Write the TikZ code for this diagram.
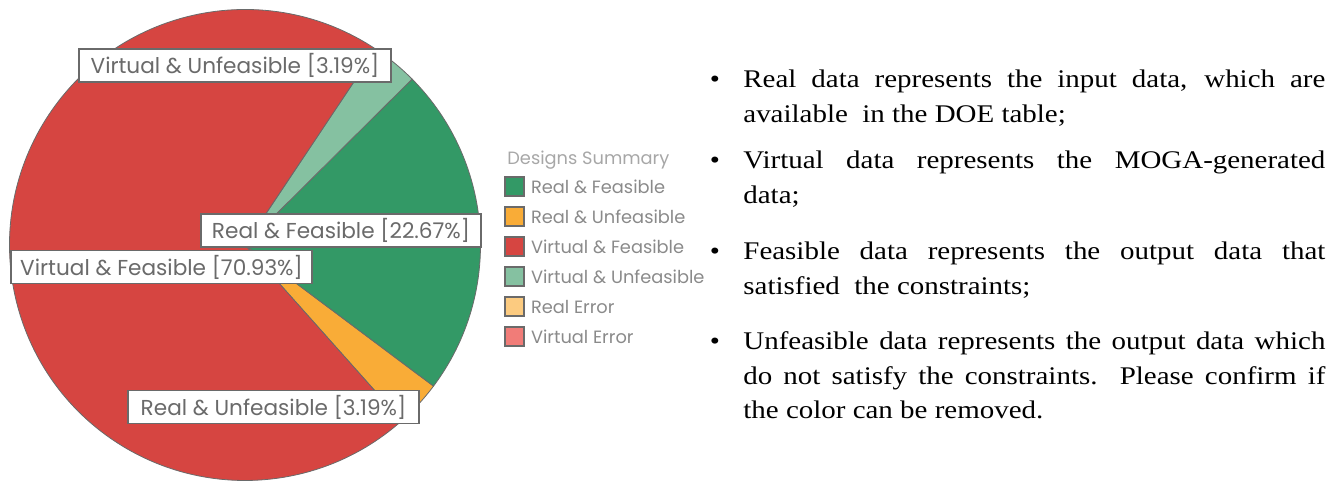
\documentclass[tikz,border=0pt]{standalone}
\usepackage{fontspec}
\setmainfont{Liberation Serif}[FakeStretch=1.14]
\newfontfamily\chartfont{Poppins}
\usepackage{tikz}
\usetikzlibrary{positioning}
\definecolor{rfeas}{HTML}{339966}
\definecolor{runf}{HTML}{F9AC37}
\definecolor{vfeas}{HTML}{D64541}
\definecolor{vunf}{HTML}{85C1A1}
\definecolor{rerr}{HTML}{FCCB80}
\definecolor{verr}{HTML}{F17C78}
\definecolor{pieline}{HTML}{6A6A6A}
\definecolor{tagtext}{HTML}{6A6A6A}
\definecolor{keytext}{HTML}{8A8A8A}
\tikzstyle{tag} = [draw=pieline, fill=white, line width=0.7pt, text=tagtext,
font=\chartfont\fontsize{10.8}{12}\selectfont, minimum height=16.5pt, inner sep=0pt]
\tikzstyle{swatch} = [draw=pieline, line width=0.6pt, minimum size=9.5pt, inner sep=0pt]
\tikzstyle{key} = [anchor=west, inner sep=0pt, text=keytext, font=\chartfont\fontsize{8.9}{10}\selectfont]
\tikzstyle{note} = [anchor=base west, text width=291pt, align=justify, inner sep=0pt,
font=\fontsize{12.7}{17.25}\selectfont]
\tikzstyle{dot} = [anchor=base, inner sep=0pt, font=\fontsize{12.7}{17.25}\selectfont]

\begin{document}
\begin{tikzpicture}[x=0.5pt, y=0.5pt]
\useasboundingbox (0,0) rectangle (1344,481);
    % pie
\coordinate (c) at (245,236);
\filldraw [fill=runf, draw=pieline] (c) -- ++(-48.3:117.75pt) arc [start angle=-48.3, end angle=-36.82, radius=117.75pt] -- cycle;
\filldraw [fill=rfeas, draw=pieline] (c) -- ++(-36.82:117.75pt) arc [start angle=-36.82, end angle=44.79, radius=117.75pt] -- cycle;
\filldraw [fill=vunf, draw=pieline] (c) -- ++(44.79:117.75pt) arc [start angle=44.79, end angle=56.28, radius=117.75pt] -- cycle;
\filldraw [fill=vfeas, draw=pieline] (c) -- ++(56.28:117.75pt) arc [start angle=56.28, end angle=311.7, radius=117.75pt] -- cycle;

    % labels
\node [tag, minimum width=156pt] (vu) at (235,415.5) {Virtual \& Unfeasible [3.19\%]};
\node [tag, minimum width=140pt] (rf) at (341,250.5) {Real \& Feasible [22.67\%]};
\node [tag, minimum width=150.5pt] (vf) at (161.5,214) {Virtual \& Feasible [70.93\%]};
\node [tag, minimum width=145.5pt] (ru) at (273.5,74) {Real \& Unfeasible [3.19\%]};

    % legend
\node [key, text=keytext!75] (ds) at (507,321) {Designs Summary};
\node [swatch, fill=rfeas] (s1) at (514.5,294.5) {};
\node [swatch, fill=runf, below=4.9pt of s1] (s2) {};
\node [swatch, fill=vfeas, below=4.9pt of s2] (s3) {};
\node [swatch, fill=vunf, below=4.9pt of s3] (s4) {};
\node [swatch, fill=rerr, below=4.9pt of s4] (s5) {};
\node [swatch, fill=verr, below=4.9pt of s5] (s6) {};
\node [key, right=3pt of s1] (k1) {Real \& Feasible};
\node [key, right=3pt of s2] (k2) {Real \& Unfeasible};
\node [key, right=3pt of s3] (k3) {Virtual \& Feasible};
\node [key, right=3pt of s4] (k4) {Virtual \& Unfeasible};
\node [key, right=3pt of s5] (k5) {Real Error};
\node [key, right=3pt of s6] (k6) {Virtual Error};

    % notes
\node [note] (real) at (743,393) {Real data represents the input data, which are\linebreak available\ \ in the DOE table;};
\node [note] (virt) at (743,312) {Virtual data represents the MOGA-generated\linebreak data;};
\node [note] (feas) at (743,221) {Feasible data represents the output data that\linebreak satisfied\ \ the constraints;};
\node [note] (unf) at (743,131) {Unfeasible data represents the output data which\linebreak do not satisfy the constraints.\ \ Please confirm if\linebreak the color can be removed.};
\node [dot] (d1) at ([xshift=-14pt]real.base west) {\textbullet};
\node [dot] (d2) at ([xshift=-14pt]virt.base west) {\textbullet};
\node [dot] (d3) at ([xshift=-14pt]feas.base west) {\textbullet};
\node [dot] (d4) at ([xshift=-14pt]unf.base west) {\textbullet};

\end{tikzpicture}
\end{document}
